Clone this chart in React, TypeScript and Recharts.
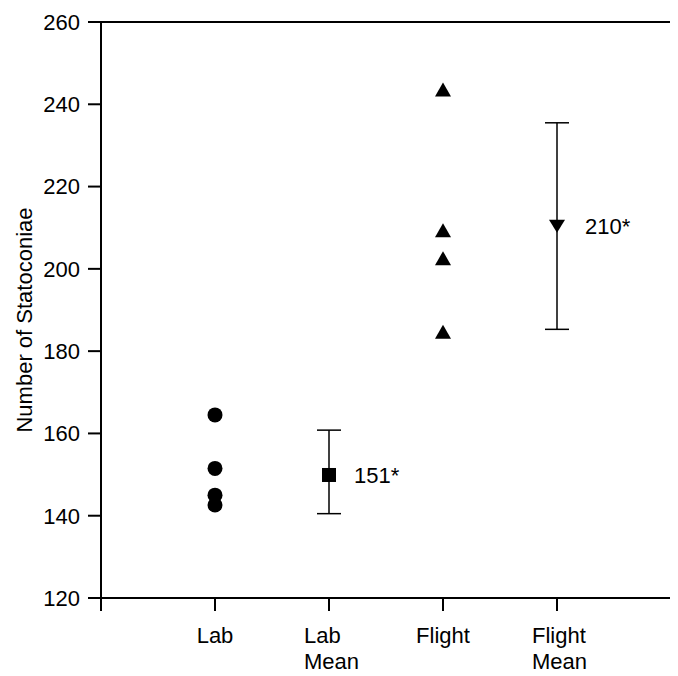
import React from 'react'
import { ScatterChart, Scatter, XAxis, YAxis, ErrorBar, ReferenceLine } from 'recharts'

// groups along the x axis (positions 1..4)
const categories = ['Lab', 'Lab\nMean', 'Flight', 'Flight\nMean']
const labValues = [164.5, 151.5, 145, 142.6]
const flightValues = [243.6, 209.4, 202.6, 184.7]
const meanValues = [149.9, 210.5]
const meanErrLow = [9.4, 25.2]
const meanErrHigh = [10.9, 25.0]
const meanLabels = ['151*', '210*']
const yTicks = [120, 140, 160, 180, 200, 220, 240, 260]
const xTicks = [0, 1, 2, 3, 4, 5]

const font = '"Liberation Sans", Arial, Helvetica, sans-serif'
const fontSize = 22

const labData = labValues.map((v) => ({ x: 1, y: v }))
const flightData = flightValues.map((v) => ({ x: 3, y: v }))
const labMean = [{ x: 2, y: meanValues[0], err: [meanErrLow[0], meanErrHigh[0]], label: meanLabels[0] }]
const flightMean = [{ x: 4, y: meanValues[1], err: [meanErrLow[1], meanErrHigh[1]], label: meanLabels[1] }]

const Dot = (props: any) => <circle cx={props.cx} cy={props.cy} r={7.5} fill="#000" />

const UpTriangle = (props: any) => {
  const { cx, cy } = props
  return <polygon points={`${cx - 8},${cy + 7} ${cx + 8},${cy + 7} ${cx},${cy - 7}`} fill="#000" />
}

const MeanLabel = ({ cx, cy, text, dx }: any) => (
  <text x={cx + dx} y={cy} dy="0.36em" fontSize={fontSize} fontFamily={font} fill="#000">
    {text}
  </text>
)

const Square = (props: any) => {
  const { cx, cy, payload } = props
  return (
    <g>
      <rect x={cx - 7} y={cy - 7} width={14} height={14} fill="#000" />
      <MeanLabel cx={cx} cy={cy} text={payload.label} dx={25} />
    </g>
  )
}

const DownTriangle = (props: any) => {
  const { cx, cy, payload } = props
  return (
    <g>
      <polygon points={`${cx - 8},${cy - 6} ${cx + 8},${cy - 6} ${cx},${cy + 7}`} fill="#000" />
      <MeanLabel cx={cx} cy={cy} text={payload.label} dx={28} />
    </g>
  )
}

const XTick = (props: any) => {
  const { x, y, payload } = props
  const idx = payload.value - 1
  if (idx < 0 || idx >= categories.length) return null
  const lines = categories[idx].split('\n')
  if (lines.length === 1) {
    return (
      <text x={x} y={y} dy={30} textAnchor="middle" fontSize={fontSize} fontFamily={font} fill="#000">
        {lines[0]}
      </text>
    )
  }
  return (
    <text x={x - 25} y={y} fontSize={fontSize} fontFamily={font} fill="#000">
      {lines.map((l, i) => (
        <tspan key={i} x={x - 25} dy={i === 0 ? 30 : 26}>
          {l}
        </tspan>
      ))}
    </text>
  )
}

const YLabel = (props: any) => {
  const { viewBox } = props
  const cx = 16
  const cy = viewBox.y + viewBox.height / 2 + 10
  return (
    <text
      x={cx}
      y={cy}
      dy="0.36em"
      transform={`rotate(-90, ${cx}, ${cy})`}
      textAnchor="middle"
      fontSize={fontSize}
      fontFamily={font}
      fill="#000"
    >
      Number of Statoconiae
    </text>
  )
}

export default function App() {
  return (
    <div style={{ width: 670, height: 668, background: '#fff' }}>
      <ScatterChart width={670} height={668} margin={{ top: 14, right: 7, bottom: 8, left: 0 }}>
        <XAxis
          xAxisId="b"
          type="number"
          dataKey="x"
          domain={[0, 5]}
          ticks={xTicks}
          tickSize={13}
          height={70}
          interval={0}
          stroke="#000"
          strokeWidth={2}
          tick={<XTick />}
        />
        <YAxis
          yAxisId="l"
          type="number"
          dataKey="y"
          domain={[120, 260]}
          ticks={yTicks}
          interval={0}
          width={93}
          tickSize={13}
          tickMargin={8}
          stroke="#000"
          strokeWidth={2}
          tick={{ fill: '#000', fontSize, fontFamily: font }}
          label={<YLabel />}
        />
        <ReferenceLine xAxisId="b" yAxisId="l" y={260} stroke="#000" strokeWidth={2} />
        <ReferenceLine xAxisId="b" yAxisId="l" x={5} stroke="#000" strokeWidth={2} />
        <Scatter xAxisId="b" yAxisId="l" data={labData} shape={<Dot />} isAnimationActive={false} />
        <Scatter xAxisId="b" yAxisId="l" data={flightData} shape={<UpTriangle />} isAnimationActive={false} />
        <Scatter xAxisId="b" yAxisId="l" data={labMean} shape={<Square />} isAnimationActive={false}>
          <ErrorBar dataKey="err" direction="y" width={12} stroke="#000" strokeWidth={1.5} />
        </Scatter>
        <Scatter xAxisId="b" yAxisId="l" data={flightMean} shape={<DownTriangle />} isAnimationActive={false}>
          <ErrorBar dataKey="err" direction="y" width={12} stroke="#000" strokeWidth={1.5} />
        </Scatter>
      </ScatterChart>
    </div>
  )
}
